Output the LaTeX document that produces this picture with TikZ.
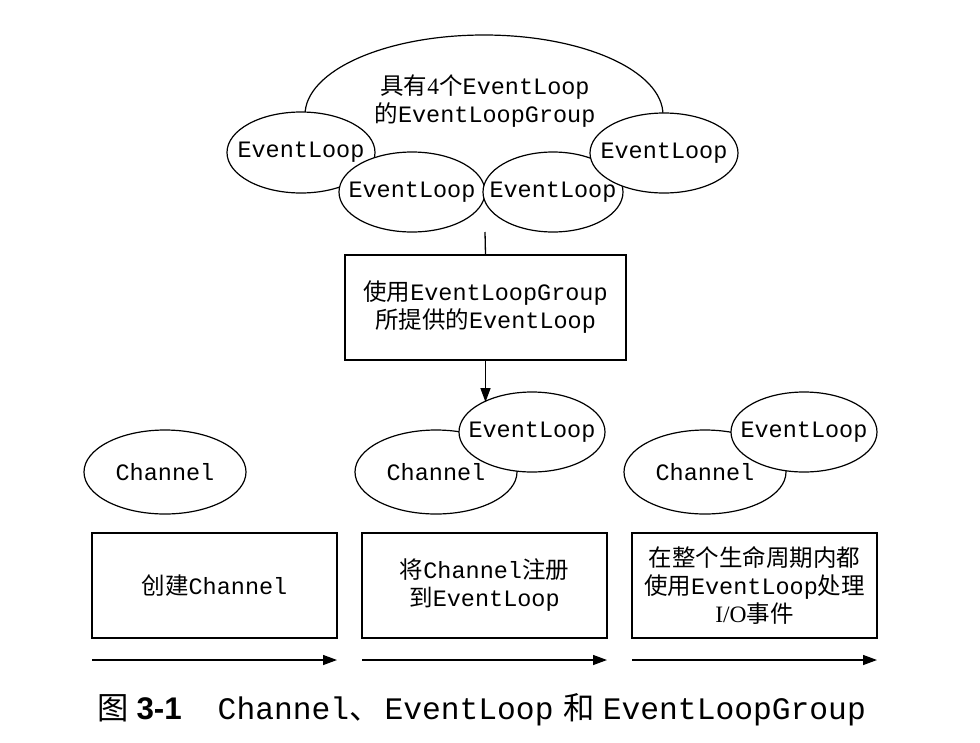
\documentclass[tikz,border=0pt]{standalone}
\usepackage{fontspec}
\setmainfont{Liberation Serif}
\setsansfont{Liberation Sans}
\setmonofont{Liberation Mono}
\newfontfamily\cjk{Noto Sans CJK SC}
\usetikzlibrary{shapes.geometric,arrows.meta}
\newcommand\zh[1]{{\cjk #1}}
\begin{document}
\begin{tikzpicture}[x=1pt,y=-1pt,
  txt/.style={font=\fontsize{23.5}{28}\selectfont\ttfamily, align=center, inner sep=0pt},
  ell/.style={txt, ellipse, draw, fill=white, line width=1.2pt, inner sep=-40pt},
  evl/.style={ell, minimum width=146pt, minimum height=80pt},
  chan/.style={ell, minimum width=162pt, minimum height=84pt},
  stepbox/.style={txt, draw, fill=white, line width=1.3pt, minimum width=245pt, minimum height=105pt},
  arr/.style={line width=1.3pt, -{Triangle[length=14pt,width=10pt]}},
  conn/.style={line width=1.3pt}
]
\useasboundingbox (0,0) rectangle (980,742);
% group
\node[ell, minimum width=358pt, minimum height=160pt] (grp) at (484,115) {};
\node[txt] (grpt) at (485,101.5) {\zh{具有}{\rmfamily 4}\zh{个}EventLoop\\\zh{的}EventLoopGroup};
\node[evl, minimum width=148pt, minimum height=81pt] (e1) at (301,152.5) {EventLoop};
\node[evl] (e2) at (412,192) {EventLoop};
\node[evl, minimum width=140pt] (e3) at (553,192) {EventLoop};
\node[evl, minimum width=148pt] (e4) at (664,153) {EventLoop};
\coordinate (j) at (485,232);
% middle box
\node[stepbox, minimum width=281pt] (mb) at (485.5,307.5) {\zh{使用}EventLoopGroup\\\zh{所提供的}EventLoop};
\draw[conn] (j) -- (mb.north);
% bottom ellipses
\node[chan] (c1) at (165,472) {Channel};
\node[chan] (c2) at (436,472) {Channel};
\node[evl] (l2) at (532,432) {EventLoop};
\node[chan] (c3) at (705,472) {Channel};
\node[evl] (l3) at (804,432) {EventLoop};
\draw[arr] (mb.south) -- (mb.south |- l2.149);
% boxes
\node[stepbox] (b1) at (214.5,585.5) {\zh{创建}Channel};
\node[stepbox] (b2) at (484.5,585.5) {\zh{将}Channel\zh{注册}\\\zh{到}EventLoop};
\node[stepbox] (b3) at (754.5,585.5) {\zh{在整个生命周期内都}\\\zh{使用}EventLoop\zh{处理}\\{\rmfamily I/O}\zh{事件}};
% timeline arrows
\coordinate (a1s) at (92,660); \coordinate (a1e) at (337,660);
\coordinate (a2s) at (362,660); \coordinate (a2e) at (607,660);
\coordinate (a3s) at (632,660); \coordinate (a3e) at (877,660);
\draw[arr] (a1s) -- (a1e);
\draw[arr] (a2s) -- (a2e);
\draw[arr] (a3s) -- (a3e);
% caption
\node[anchor=west, inner sep=0pt, font=\fontsize{31.3}{36}\selectfont] (cap) at (97,710)
  {\zh{图}\hspace{8pt}{\sffamily\bfseries 3-1}\hspace{36pt}{\ttfamily Channel}\zh{、}\hspace{4pt}{\ttfamily EventLoop}\hspace{10pt}\zh{和}\hspace{8pt}{\ttfamily EventLoopGroup}};
\end{tikzpicture}
\end{document}
